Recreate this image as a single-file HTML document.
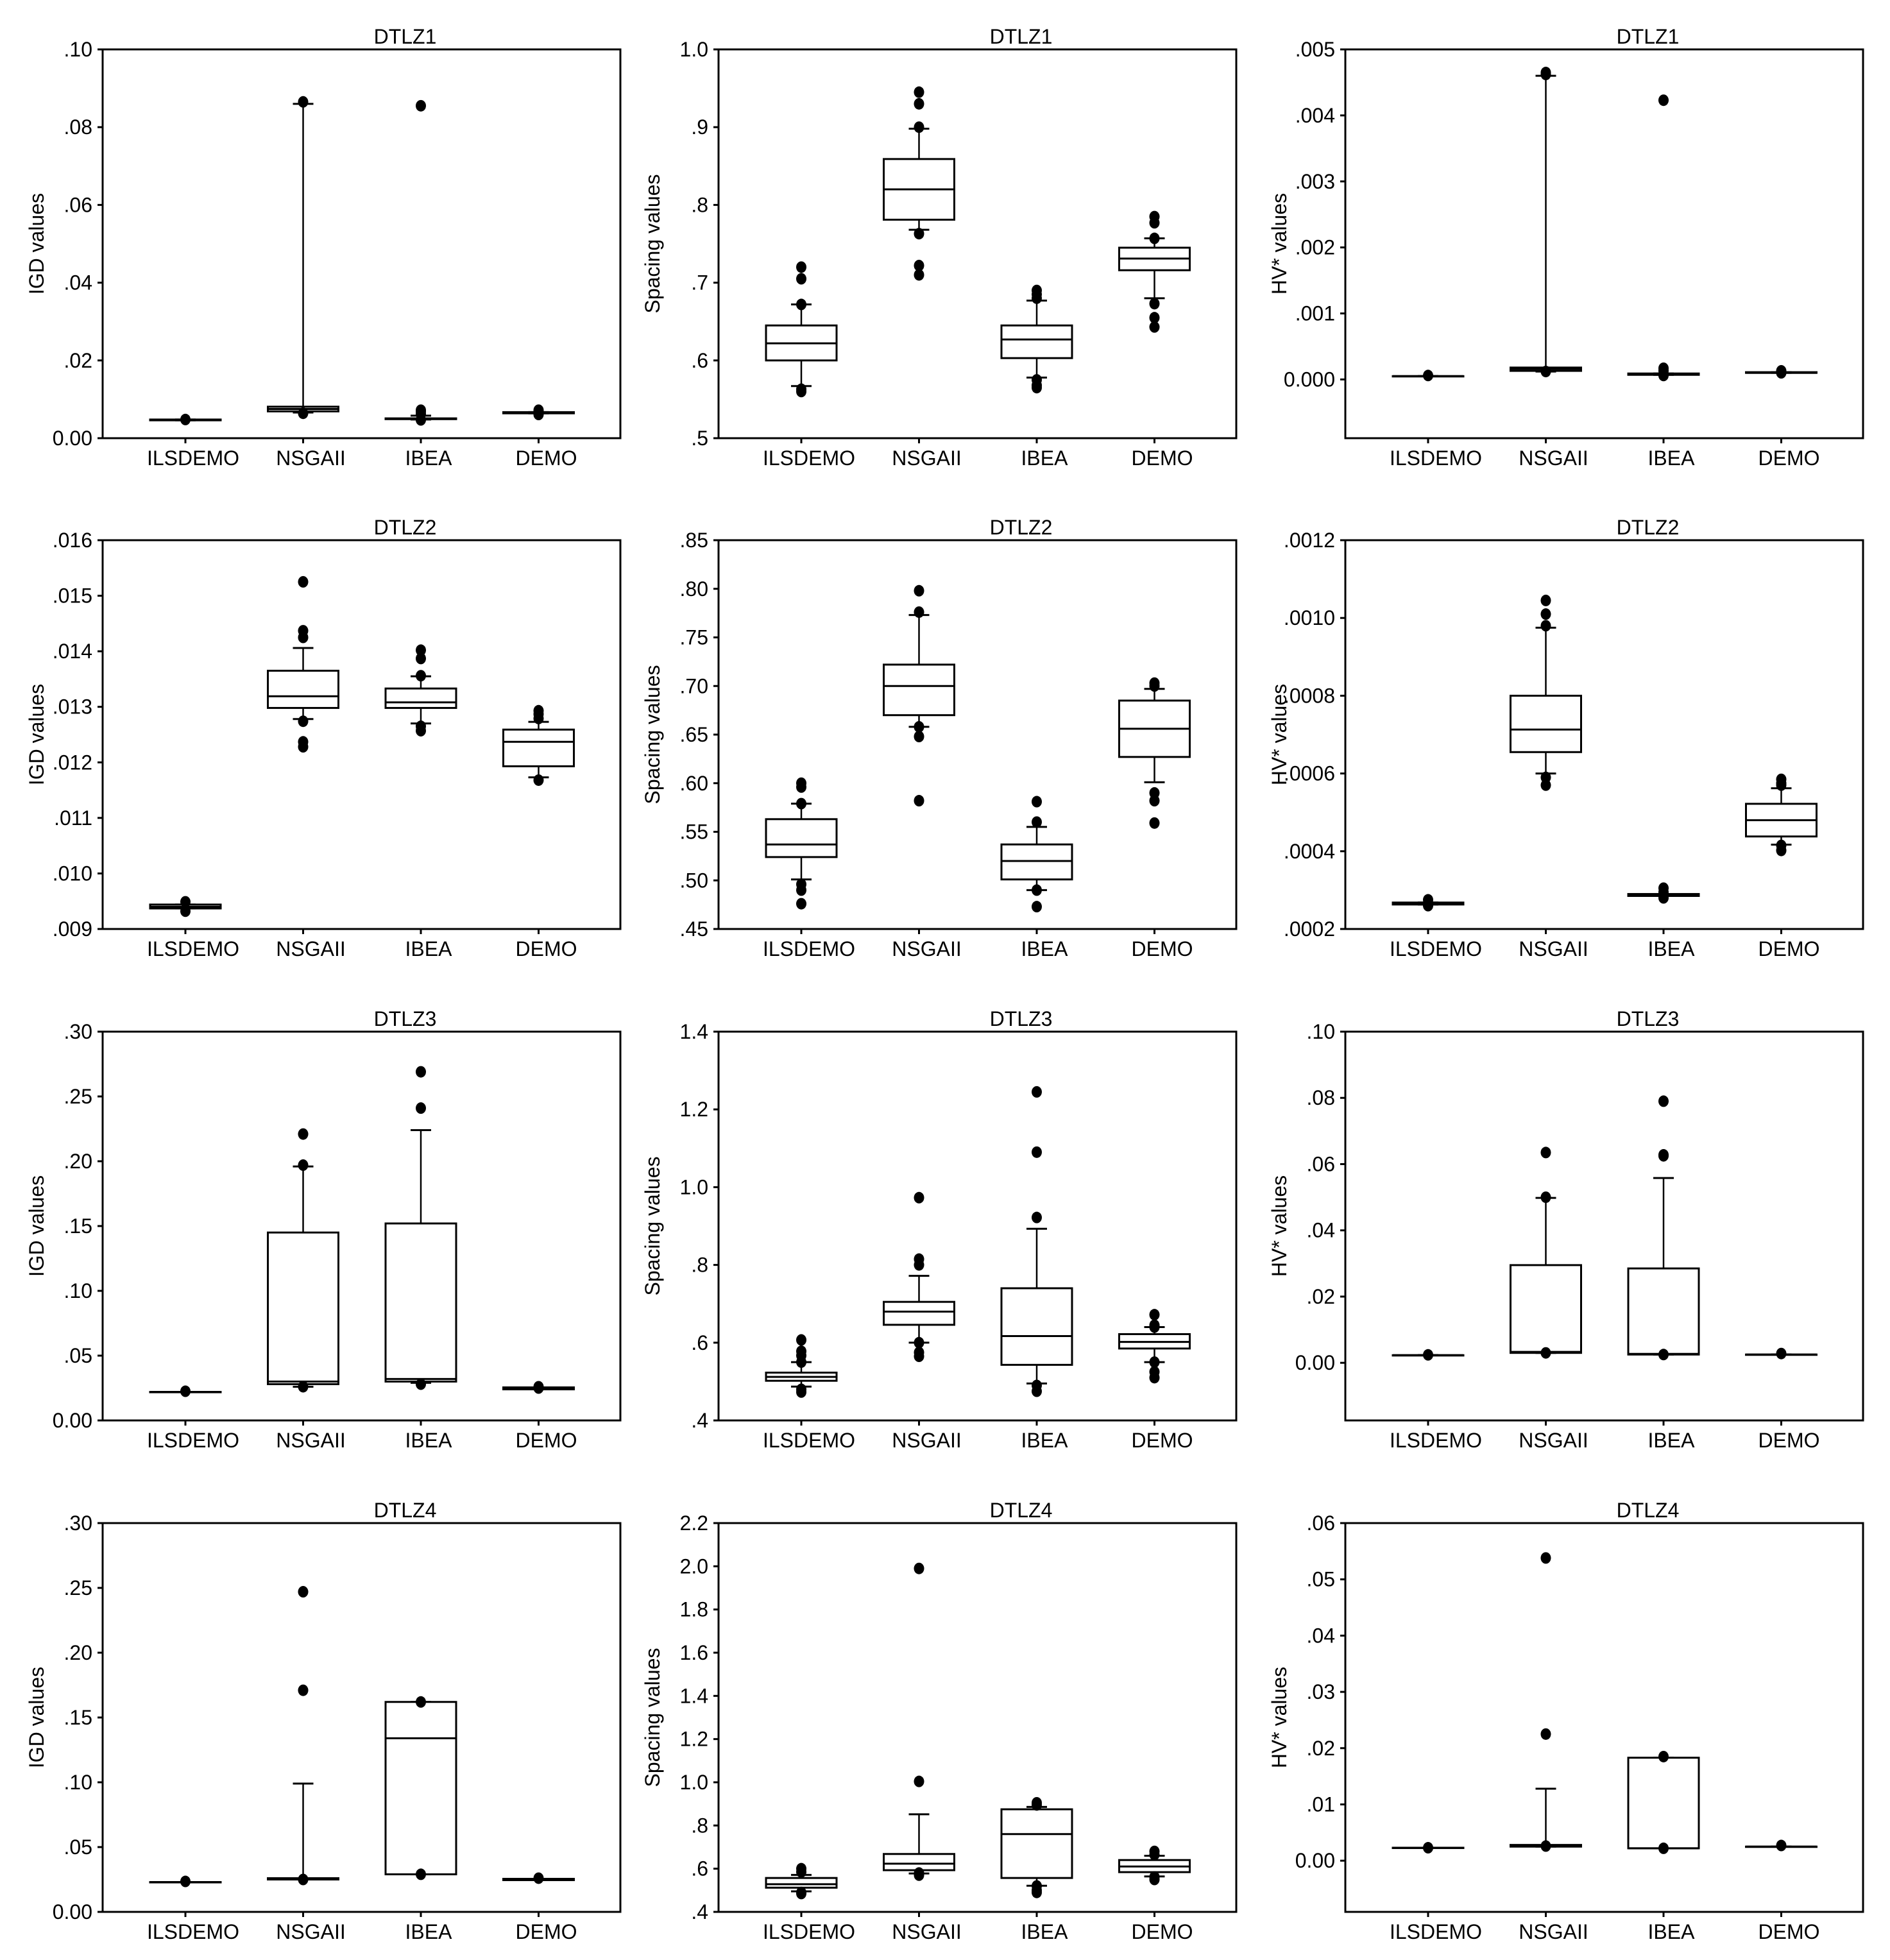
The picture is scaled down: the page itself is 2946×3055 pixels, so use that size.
<!DOCTYPE html>
<html><head><meta charset="utf-8"><style>
html,body{margin:0;padding:0;background:#fff}
svg{display:block}
text{font-family:"Liberation Sans",Arial,sans-serif;fill:#000}
</style></head>
<body>
<svg id="fig" width="2946" height="3055" viewBox="0 0 2946 3055" xmlns="http://www.w3.org/2000/svg"></svg>
<script>
// ---- categories ----
const categories = ["ILSDEMO","NSGAII","IBEA","DEMO"];
const problems = ["DTLZ1","DTLZ2","DTLZ3","DTLZ4"];
const metricLabels = ["IGD values","Spacing values","HV* values"];

// ---- axis domains and tick labels ----
const r1c1_ticks = ["0.00",".02",".04",".06",".08",".10"]; const r1c1_tv=[0,.02,.04,.06,.08,.10]; const r1c1_dom=[0,.10];
const r1c2_ticks = [".5",".6",".7",".8",".9","1.0"]; const r1c2_tv=[.5,.6,.7,.8,.9,1.0]; const r1c2_dom=[.5,1.0];
const r1c3_ticks = ["0.000",".001",".002",".003",".004",".005"]; const r1c3_tv=[0,.001,.002,.003,.004,.005]; const r1c3_dom=[-0.00089,.005];
const r2c1_ticks = [".009",".010",".011",".012",".013",".014",".015",".016"]; const r2c1_tv=[.009,.010,.011,.012,.013,.014,.015,.016]; const r2c1_dom=[.009,.016];
const r2c2_ticks = [".45",".50",".55",".60",".65",".70",".75",".80",".85"]; const r2c2_tv=[.45,.50,.55,.60,.65,.70,.75,.80,.85]; const r2c2_dom=[.45,.85];
const r2c3_ticks = [".0002",".0004",".0006",".0008",".0010",".0012"]; const r2c3_tv=[.0002,.0004,.0006,.0008,.0010,.0012]; const r2c3_dom=[.0002,.0012];
const r3c1_ticks = ["0.00",".05",".10",".15",".20",".25",".30"]; const r3c1_tv=[0,.05,.10,.15,.20,.25,.30]; const r3c1_dom=[0,.30];
const r3c2_ticks = [".4",".6",".8","1.0","1.2","1.4"]; const r3c2_tv=[.4,.6,.8,1.0,1.2,1.4]; const r3c2_dom=[.4,1.4];
const r3c3_ticks = ["0.00",".02",".04",".06",".08",".10"]; const r3c3_tv=[0,.02,.04,.06,.08,.10]; const r3c3_dom=[-0.0174,.10];
const r4c1_ticks = ["0.00",".05",".10",".15",".20",".25",".30"]; const r4c1_tv=[0,.05,.10,.15,.20,.25,.30]; const r4c1_dom=[0,.30];
const r4c2_ticks = [".4",".6",".8","1.0","1.2","1.4","1.6","1.8","2.0","2.2"]; const r4c2_tv=[.4,.6,.8,1.0,1.2,1.4,1.6,1.8,2.0,2.2]; const r4c2_dom=[.4,2.2];
const r4c3_ticks = ["0.00",".01",".02",".03",".04",".05",".06"]; const r4c3_tv=[0,.01,.02,.03,.04,.05,.06]; const r4c3_dom=[-0.0091,.06];

// ---- box statistics: q1, median, q3, whisker low, whisker high, outliers ----
const r1c1_q1=[.0046,.0069,.0049,.0064], r1c1_med=[.0047,.0075,.0050,.0065], r1c1_q3=[.0048,.0081,.0051,.0067], r1c1_lo=[.0046,.0066,.0048,.0064], r1c1_hi=[.0048,.0860,.0058,.0067];
const r1c1_out=[[.0048],[.0865,.0064],[.0855,.0072,.0068,.0062,.0047],[.0072,.0068,.0061]];
const r1c2_q1=[.600,.781,.603,.716], r1c2_med=[.622,.820,.627,.731], r1c2_q3=[.645,.859,.645,.745], r1c2_lo=[.567,.768,.578,.680], r1c2_hi=[.672,.898,.677,.757];
const r1c2_out=[[.720,.705,.672,.560,.563],[.945,.930,.900,.763,.722,.710],[.690,.685,.680,.575,.568,.565],[.785,.777,.757,.673,.655,.643]];
const r1c3_q1=[.00005,.00013,.00007,.00010], r1c3_med=[.00005,.00016,.00008,.00010], r1c3_q3=[.00005,.00018,.00009,.00011], r1c3_lo=[.00005,.00012,.00007,.00010], r1c3_hi=[.00005,.00460,.00009,.00011];
const r1c3_out=[[.00006],[.00465,.00462,.00012],[.00423,.00017,.00013,.00006],[.00013,.00010]];

const r2c1_q1=[.00937,.01298,.01298,.01193], r2c1_med=[.0094,.01319,.01308,.01237], r2c1_q3=[.00944,.01365,.01333,.01259], r2c1_lo=[.00937,.01278,.01270,.01173], r2c1_hi=[.00944,.01406,.01355,.01273];
const r2c1_out=[[.00949,.00932],[.01525,.01437,.01425,.01274,.01237,.01228],[.01402,.01387,.01356,.01265,.01257],[.01293,.01287,.01279,.01168]];
const r2c2_q1=[.524,.670,.501,.627], r2c2_med=[.537,.700,.520,.656], r2c2_q3=[.563,.722,.537,.685], r2c2_lo=[.501,.658,.490,.601], r2c2_hi=[.579,.773,.555,.697];
const r2c2_out=[[.600,.596,.579,.496,.490,.476],[.798,.776,.658,.648,.582],[.581,.560,.490,.473],[.703,.700,.590,.582,.559]];
const r2c3_q1=[.000263,.000655,.000285,.000438], r2c3_med=[.000265,.000713,.000287,.000480], r2c3_q3=[.000268,.000800,.000290,.000522], r2c3_lo=[.000263,.000600,.000285,.000417], r2c3_hi=[.000268,.000975,.000290,.000562];
const r2c3_out=[[.000275,.000260],[.001045,.00101,.00098,.00059,.00057],[.000305,.000295,.000280],[.000585,.000575,.000570,.000415,.000402]];

const r3c1_q1=[.022,.028,.030,.024], r3c1_med=[.022,.030,.032,.025], r3c1_q3=[.022,.145,.152,.0255], r3c1_lo=[.022,.026,.029,.024], r3c1_hi=[.022,.196,.224,.0255];
const r3c1_out=[[.0225],[.221,.197,.026],[.269,.241,.028],[.026,.025]];
const r3c2_q1=[.502,.646,.543,.585], r3c2_med=[.512,.680,.617,.602], r3c2_q3=[.523,.705,.740,.622], r3c2_lo=[.487,.600,.495,.550], r3c2_hi=[.550,.772,.893,.640];
const r3c2_out=[[.607,.578,.567,.550,.480,.473],[.973,.815,.800,.600,.575,.565],[1.245,1.090,.922,.490,.475],[.672,.645,.640,.550,.525,.510]];
const r3c3_q1=[.0023,.0030,.0025,.0025], r3c3_med=[.0023,.0033,.0027,.0025], r3c3_q3=[.0023,.0295,.0285,.0025], r3c3_lo=[.0023,.0030,.0025,.0025], r3c3_hi=[.0023,.0498,.0558,.0025];
const r3c3_out=[[.0024],[.0635,.0500,.0030],[.0790,.0628,.0625,.0025],[.0028]];

const r4c1_q1=[.023,.025,.029,.0245], r4c1_med=[.023,.0255,.134,.025], r4c1_q3=[.023,.026,.162,.0255], r4c1_lo=[.023,.025,.029,.0245], r4c1_hi=[.023,.099,.162,.0255];
const r4c1_out=[[.0235],[.247,.171,.025],[.162,.029],[.026]];
const r4c2_q1=[.512,.593,.557,.584], r4c2_med=[.528,.623,.760,.610], r4c2_q3=[.557,.668,.875,.640], r4c2_lo=[.495,.578,.521,.564], r4c2_hi=[.571,.852,.886,.660];
const r4c2_out=[[.600,.585,.490,.485],[1.990,1.004,.580,.570],[.905,.895,.520,.500,.490],[.680,.665,.562,.550]];
const r4c3_q1=[.0023,.0025,.0022,.0025], r4c3_med=[.0023,.0027,.0022,.0025], r4c3_q3=[.0023,.0028,.0183,.0025], r4c3_lo=[.0023,.0025,.0022,.0025], r4c3_hi=[.0023,.0128,.0183,.0025];
const r4c3_out=[[.0023],[.0538,.0225,.0026],[.0185,.0022],[.0027]];

const panels = [
 [r1c1_ticks,r1c1_tv,r1c1_dom,r1c1_q1,r1c1_med,r1c1_q3,r1c1_lo,r1c1_hi,r1c1_out],
 [r1c2_ticks,r1c2_tv,r1c2_dom,r1c2_q1,r1c2_med,r1c2_q3,r1c2_lo,r1c2_hi,r1c2_out],
 [r1c3_ticks,r1c3_tv,r1c3_dom,r1c3_q1,r1c3_med,r1c3_q3,r1c3_lo,r1c3_hi,r1c3_out],
 [r2c1_ticks,r2c1_tv,r2c1_dom,r2c1_q1,r2c1_med,r2c1_q3,r2c1_lo,r2c1_hi,r2c1_out],
 [r2c2_ticks,r2c2_tv,r2c2_dom,r2c2_q1,r2c2_med,r2c2_q3,r2c2_lo,r2c2_hi,r2c2_out],
 [r2c3_ticks,r2c3_tv,r2c3_dom,r2c3_q1,r2c3_med,r2c3_q3,r2c3_lo,r2c3_hi,r2c3_out],
 [r3c1_ticks,r3c1_tv,r3c1_dom,r3c1_q1,r3c1_med,r3c1_q3,r3c1_lo,r3c1_hi,r3c1_out],
 [r3c2_ticks,r3c2_tv,r3c2_dom,r3c2_q1,r3c2_med,r3c2_q3,r3c2_lo,r3c2_hi,r3c2_out],
 [r3c3_ticks,r3c3_tv,r3c3_dom,r3c3_q1,r3c3_med,r3c3_q3,r3c3_lo,r3c3_hi,r3c3_out],
 [r4c1_ticks,r4c1_tv,r4c1_dom,r4c1_q1,r4c1_med,r4c1_q3,r4c1_lo,r4c1_hi,r4c1_out],
 [r4c2_ticks,r4c2_tv,r4c2_dom,r4c2_q1,r4c2_med,r4c2_q3,r4c2_lo,r4c2_hi,r4c2_out],
 [r4c3_ticks,r4c3_tv,r4c3_dom,r4c3_q1,r4c3_med,r4c3_q3,r4c3_lo,r4c3_hi,r4c3_out]
];

const NS="http://www.w3.org/2000/svg";
const svg=document.getElementById('fig');
function mk(tag,attrs,parent){const e=document.createElementNS(NS,tag);for(const k in attrs)e.setAttribute(k,attrs[k]);(parent||svg).appendChild(e);return e;}

const colLeft=[160,1120,2097], rowTop=[77,842,1608,2374];
const PW=807, PH=606;
const catOffset=129, catStep=183.5, boxW=110, capW=32, dotR=8;

panels.forEach((p,idx)=>{
  const [tl,tv,dom,q1,med,q3,lo,hi,out]=p;
  const r=Math.floor(idx/3), c=idx%3;
  const L=colLeft[c], T=rowTop[r], B=T+PH, R=L+PW;
  const y=v=>B-(v-dom[0])/(dom[1]-dom[0])*PH;
  const x=i=>L+catOffset+i*catStep;
  const g=mk('g',{});
  
  
  const frame=mk('rect',{x:L,y:T,width:PW,height:PH,fill:'none',stroke:'#000','stroke-width':3},g);
  
  
  const title=mk('text',{x:L+PW/2+68,y:T-9,'font-size':32,'text-anchor':'middle'},g);
  title.textContent=problems[r];
  
  
  const yl=mk('text',{x:0,y:0,'font-size':32,'text-anchor':'middle',transform:`translate(${L-92},${T+PH/2}) rotate(-90)`},g);
  yl.textContent=metricLabels[c];
  
  
  tv.forEach((v,i)=>{
    const yy=y(v);
    const t=mk('line',{x1:L-8,x2:L,y1:yy,y2:yy,stroke:'#000','stroke-width':3},g);
    
    
    const lb=mk('text',{x:L-16,y:yy+11,'font-size':32,'text-anchor':'end'},g);
    lb.textContent=tl[i];
    
    
  });
  categories.forEach((cat,i)=>{
    const cx=x(i);
    const t=mk('line',{x1:cx,x2:cx,y1:B,y2:B+8,stroke:'#000','stroke-width':3},g);
    
    
    const lb=mk('text',{x:cx+12,y:B+42,'font-size':32,'text-anchor':'middle'},g);
    lb.textContent=cat;
    
    
    const w1=mk('line',{x1:cx,x2:cx,y1:y(q3[i]),y2:y(hi[i]),stroke:'#000','stroke-width':2.5},g);
    
    
    const w2=mk('line',{x1:cx,x2:cx,y1:y(q1[i]),y2:y(lo[i]),stroke:'#000','stroke-width':2.5},g);
    
    
    const c1=mk('line',{x1:cx-capW/2,x2:cx+capW/2,y1:y(hi[i]),y2:y(hi[i]),stroke:'#000','stroke-width':3},g);
    
    
    const c2=mk('line',{x1:cx-capW/2,x2:cx+capW/2,y1:y(lo[i]),y2:y(lo[i]),stroke:'#000','stroke-width':3},g);
    
    
    const yt=y(q3[i]), yb=y(q1[i]);
    const bx=mk('rect',{x:cx-boxW/2,y:yt,width:boxW,height:Math.max(yb-yt,0.5),fill:'#fff',stroke:'#000','stroke-width':3},g);
    
    
    const m=mk('line',{x1:cx-boxW/2,x2:cx+boxW/2,y1:y(med[i]),y2:y(med[i]),stroke:'#000','stroke-width':3},g);
    
    
    out[i].forEach(v=>{
      const d=mk('ellipse',{cx:cx,cy:y(v),rx:dotR,ry:dotR+1,fill:'#000'},g);
      
      
    });
  });
});
</script>
</body></html>
